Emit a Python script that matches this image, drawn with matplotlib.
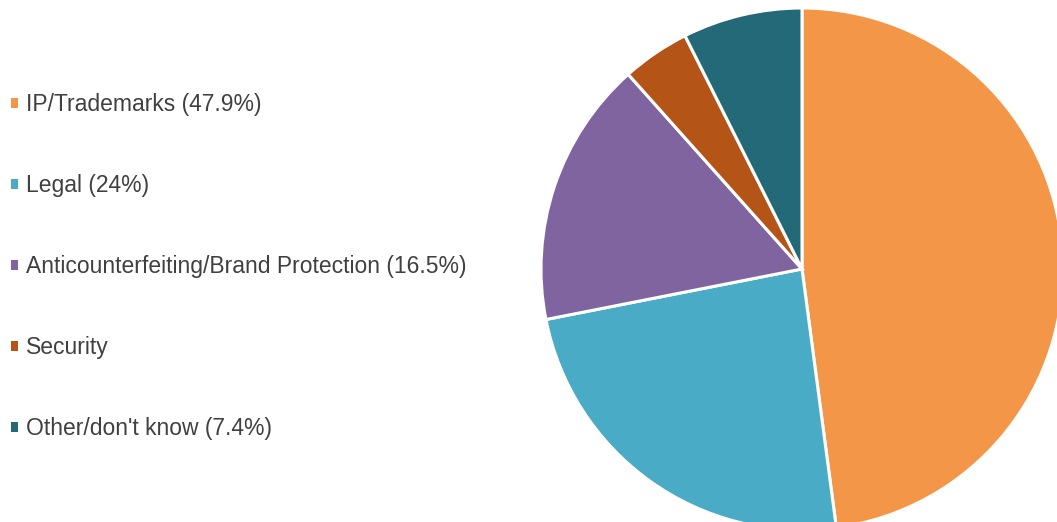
import matplotlib
matplotlib.use("Agg")
import matplotlib.pyplot as plt

categories = ["IP/Trademarks", "Legal", "Anticounterfeiting/Brand Protection", "Security", "Other/don't know"]
values = [47.9, 24.0, 16.5, 4.2, 7.4]
legend_labels = ["IP/Trademarks (47.9%)", "Legal (24%)",
                 "Anticounterfeiting/Brand Protection (16.5%)", "Security",
                 "Other/don't know (7.4%)"]
colors = ["#F39647", "#4AABC6", "#8064A0", "#B45517", "#236978"]

plt.rcParams['font.family'] = ['Liberation Sans', 'DejaVu Sans']

W, H = 1057, 522
fig = plt.figure(figsize=(W / 100, H / 100), dpi=100)
fig.patch.set_facecolor("white")

# pie axes: center (802, 269) px from top-left, radius 261 px
r = 261
cx, cy = 802, H - 269
ax = fig.add_axes([(cx - r) / W, (cy - r) / H, 2 * r / W, 2 * r / H])
wedges, _ = ax.pie(values, colors=colors, startangle=90, counterclock=False,
                   radius=1.0, wedgeprops=dict(edgecolor="white", linewidth=2.2))
ax.set_xlim(-1, 1)
ax.set_ylim(-1, 1)
ax.set_aspect("equal")
ax.axis("off")

leg = fig.legend(wedges, legend_labels, loc="upper left",
                 bbox_to_anchor=(11 / W, 1 - 93 / H), frameon=False,
                 fontsize=16.5, labelcolor="#404040",
                 handlelength=0.3, handleheight=0.3, handletextpad=0.35,
                 labelspacing=2.53, borderaxespad=0, borderpad=0)
for h in leg.legend_handles:
    h.set_edgecolor("none")

fig.savefig("out.png", dpi=100, facecolor="white")
